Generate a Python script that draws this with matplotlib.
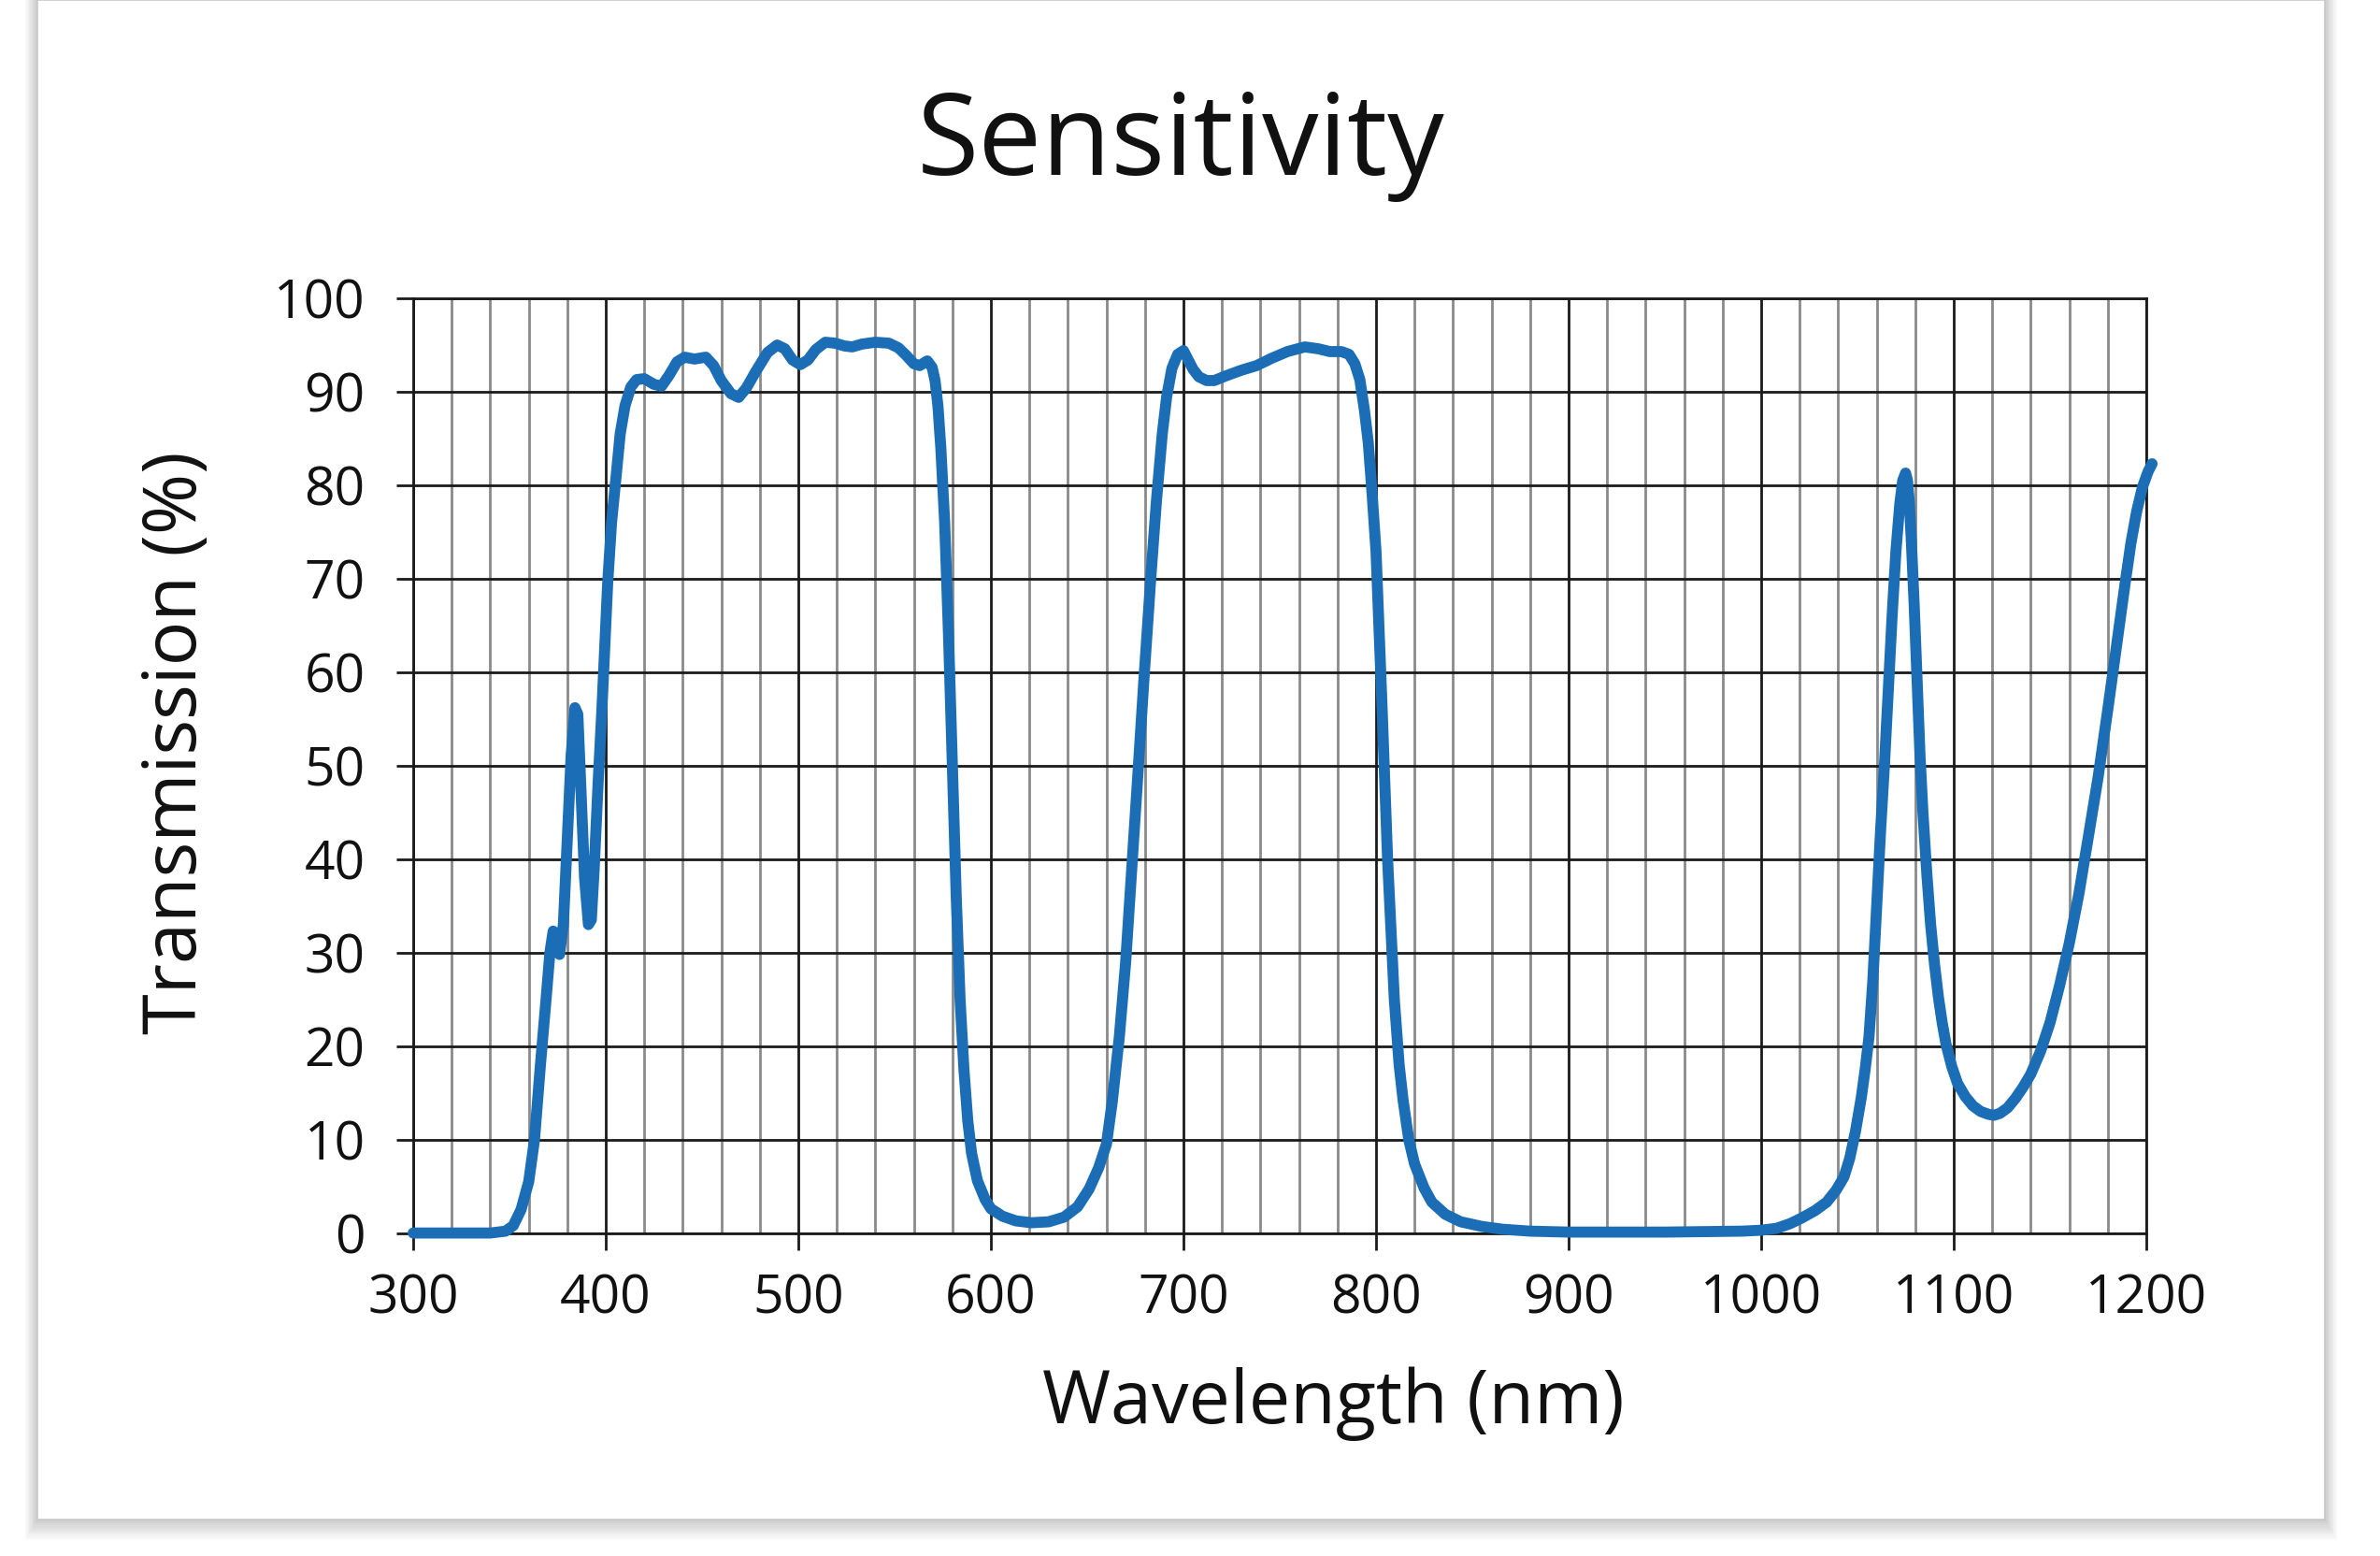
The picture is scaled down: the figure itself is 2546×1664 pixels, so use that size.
import matplotlib
matplotlib.use("Agg")
import matplotlib.pyplot as plt
from matplotlib.patches import Rectangle
from matplotlib.ticker import MultipleLocator

# transmission curve (nm, %)
wavelength = [300, 320, 340, 348, 352, 356, 360, 363, 366, 369, 371, 372.7, 374.5, 376, 378, 380,
              382, 384, 385.5, 387, 389, 391, 392.5, 394, 396, 398, 401, 403, 405.5, 407.5, 410,
              413, 416, 420, 425, 429, 433, 437, 441, 446, 452, 456, 460, 465, 469, 473, 478, 484,
              489, 493, 497, 501, 505, 509, 514, 519, 524, 528, 533, 540, 547, 552, 556, 560, 563,
              567, 569.5, 571, 572.5, 574, 576, 578, 580, 582, 584, 586, 588, 590, 593, 597, 600,
              606, 613, 621, 630, 638, 645, 651, 656, 660, 663, 666.7, 670, 673, 676, 679.4, 683,
              686, 689, 691.3, 694, 697, 700, 702, 705, 708, 712, 716, 722, 730, 738, 746, 754,
              763, 770, 776, 782, 786, 789, 791.6, 794, 796, 798, 800, 803, 806, 809.5, 812, 814,
              817, 820, 825, 829, 836, 844, 855, 866, 880, 900, 950, 990, 1000, 1008, 1015, 1021,
              1028, 1034, 1039, 1043, 1046, 1049, 1052, 1054, 1056, 1058, 1060, 1062, 1064, 1066,
              1068, 1070, 1072, 1073.5, 1075, 1076, 1077, 1078, 1079.5, 1081, 1082.5, 1084, 1086,
              1088, 1090, 1092, 1094, 1096, 1099, 1102, 1106, 1110, 1114, 1118, 1121, 1124, 1128,
              1132, 1136, 1140, 1145, 1150, 1155, 1160, 1165, 1170, 1175, 1180, 1185, 1189, 1192,
              1195, 1198, 1201, 1203]
transmission = [0, 0, 0, 0.2, 0.8, 2.5, 5.5, 10, 17.8, 25, 30, 32.3, 31, 29.8, 33, 42,
                51, 56.2, 55.5, 48, 38, 33, 33.5, 39, 48, 56, 69.5, 76, 81.2, 85.5, 88.5,
                90.5, 91.3, 91.4, 90.8, 90.6, 91.8, 93.2, 93.7, 93.5, 93.7, 92.8, 91.2, 89.8, 89.4, 90.4, 92.2, 94.2,
                95.0, 94.6, 93.4, 92.9, 93.4, 94.5, 95.3, 95.2, 94.9, 94.8, 95.1, 95.3, 95.2, 94.7, 93.9, 93.0, 92.8,
                93.3, 92.6, 91.2, 88.5, 84, 76, 64, 50, 36, 25, 17.5, 12, 8.5, 5.6, 3.6, 2.6,
                1.8, 1.3, 1.1, 1.2, 1.7, 2.8, 4.7, 7, 9.5, 14, 21, 29, 38.5, 48, 59, 70,
                78.4, 85.5, 89.5, 92.5, 94.0, 94.4, 93.6, 92.4, 91.6, 91.2, 91.2, 91.7, 92.3, 92.8, 93.6, 94.3,
                94.8, 94.6, 94.3, 94.3, 94.0, 93, 91.3, 88, 84.5, 79, 72.9, 57, 40, 25, 18, 14.3,
                10, 7.4, 4.8, 3.3, 2, 1.2, 0.7, 0.4, 0.2, 0.1, 0.1, 0.2, 0.3, 0.5, 1, 1.6,
                2.4, 3.3, 4.6, 6, 8, 10.9, 14.5, 17.5, 21, 27, 35, 43, 50, 58,
                66, 73, 78, 80.5, 81.3, 80.5, 78, 74, 67, 59, 51, 45, 38.5,
                33, 28.8, 25.3, 22.5, 20.2, 17.8, 16.0, 14.6, 13.6, 13.0, 12.7, 12.6, 12.8, 13.4,
                14.4, 15.6, 17.0, 19.4, 22.5, 26.5, 31, 36.3, 42.5, 48.8, 56, 63.5, 69.5, 73.8,
                77.2, 79.8, 81.5, 82.3]

x_ticks = [300, 400, 500, 600, 700, 800, 900, 1000, 1100, 1200]
y_ticks = [0, 10, 20, 30, 40, 50, 60, 70, 80, 90, 100]

FONT = ["Open Sans", "DejaVu Sans"]
plt.rcParams["font.family"] = FONT

W, H = 2546, 1664
fig = plt.figure(figsize=(W / 100, H / 100), dpi=100)
fig.patch.set_facecolor("white")

# card shadow + card
for i in range(10):
    pad = 2 + i * 2.2
    fig.patches.append(Rectangle(((40 - pad * 0.6) / W, (H - 1625 - pad) / H),
                                 (2447 + pad * 1.2) / W, (1625 + pad) / H,
                                 transform=fig.transFigure, facecolor="#000000",
                                 edgecolor="none", alpha=0.018, zorder=-3))
fig.patches.append(Rectangle((40 / W, (H - 1625) / H), 2447 / W, 1625 / H,
                             transform=fig.transFigure, facecolor="white",
                             edgecolor="#c8c8c8", linewidth=1.2, zorder=-2))

ax = fig.add_axes([442 / W, 1 - 1318.6 / H, (2296 - 442) / W, (1318.6 - 319) / H])
ax.set_facecolor("none")
ax.set_xlim(300, 1200)
ax.set_ylim(0, 100)
ax.set_xticks(x_ticks)
ax.set_yticks(y_ticks)
ax.xaxis.set_minor_locator(MultipleLocator(20))
ax.grid(which="minor", axis="x", color="#8a8a8a", linewidth=2.0, zorder=1)
ax.grid(which="major", axis="both", color="#1a1a1a", linewidth=2.0, zorder=1.5)
ax.set_axisbelow(True)
for s in ax.spines.values():
    s.set_color("#1a1a1a")
    s.set_linewidth(2.0)
ax.tick_params(which="major", direction="out", length=13, width=2.0, color="#1a1a1a",
               labelsize=41, labelcolor="#111111")
ax.tick_params(axis="x", pad=18)
ax.tick_params(axis="y", pad=24)
ax.tick_params(which="minor", length=0)

ax.plot(wavelength, transmission, color="#1b6eb5", linewidth=8.5,
        solid_joinstyle="round", solid_capstyle="round", clip_on=False, zorder=5)

fig.text(1263 / W, 1 - 187 / H, "Sensitivity", fontsize=87, ha="center", va="baseline",
         color="#111111")
fig.text(1426 / W, 1 - 1522 / H, "Wavelength (nm)", fontsize=57, ha="center", va="baseline",
         color="#111111")
fig.text(190 / W, 1 - 794 / H, "Transmission (%)", fontsize=57, ha="center", va="center",
         rotation=90, color="#111111")

fig.savefig("out.png", dpi=100)
